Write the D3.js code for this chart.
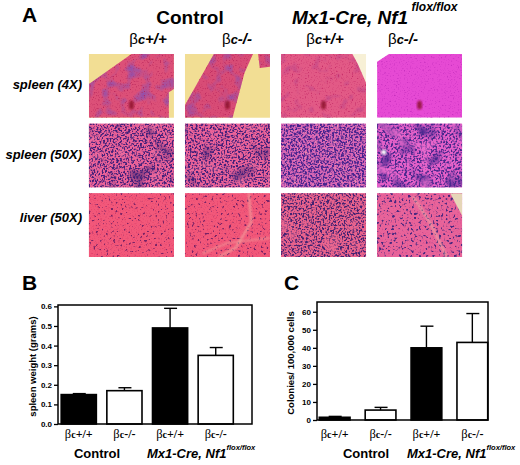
<!DOCTYPE html>
<html>
<head>
<meta charset="utf-8">
<script src="https://cdn.jsdelivr.net/npm/d3@7"></script>
<style>
body { margin: 0; background: #fff; }
svg { display: block; font-family: Arial, "Liberation Sans", sans-serif; }
</style>
</head>
<body>
<script>
// ---- data ----
const genotypes = ["βc+/+", "βc-/-", "βc+/+", "βc-/-"];
const groupNames = ["Control", "Mx1-Cre, Nf1"];
const groupSup = "flox/flox";
const tissueRows = ["spleen (4X)", "spleen (50X)", "liver (50X)"];
const barFills = ["#000", "#fff", "#000", "#fff"];

// panel B: spleen weight (grams), mean and upper error
const spleenWeight = [0.15, 0.17, 0.49, 0.35];
const spleenErr = [0.005, 0.015, 0.10, 0.04];
const spleenTicks = [0, 0.1, 0.2, 0.3, 0.4, 0.5, 0.6];

// panel C: colonies / 100,000 cells
const colonies = [1.5, 5.5, 40, 43];
const coloniesErr = [0.5, 1.5, 12, 16];
const colonyTicks = [0, 10, 20, 30, 40, 50, 60];

const W = 520, H = 465;
const svg = d3.select("body").append("svg").attr("width", W).attr("height", H);
const defs = svg.append("defs");

// ---------- panel A : histology grid ----------
const colX = d3.scaleBand().domain(d3.range(4)).range([87, 464]).paddingInner(0.115).paddingOuter(0.02);
const rowY = d3.scaleBand().domain(d3.range(3)).range([54, 257]).paddingInner(0.085);

// noise -> coloured speckles (a filter, not data)
// "dots" multiplies two noise fields so the spots come out blobby instead of wormy
let fid = 0;
function speck(color, freq, thresh, k, seed, oct, dots) {
  const id = "sp" + (fid++);
  const c = d3.rgb(color);
  const f = defs.append("filter").attr("id", id)
    .attr("x", 0).attr("y", 0).attr("width", 1).attr("height", 1)
    .attr("color-interpolation-filters", "sRGB");
  f.append("feTurbulence").attr("type", "fractalNoise")
    .attr("baseFrequency", freq).attr("numOctaves", oct || 1).attr("seed", seed).attr("result", "n1");
  if (dots) {
    f.append("feTurbulence").attr("type", "fractalNoise")
      .attr("baseFrequency", freq * 0.9).attr("numOctaves", oct || 1).attr("seed", seed + 500).attr("result", "n2");
    f.append("feComposite").attr("in", "n1").attr("in2", "n2").attr("operator", "arithmetic")
      .attr("k1", 1).attr("k2", 0).attr("k3", 0).attr("k4", 0);
  }
  f.append("feColorMatrix").attr("type", "matrix")
    .attr("values", `0 0 0 0 ${c.r / 255} 0 0 0 0 ${c.g / 255} 0 0 0 0 ${c.b / 255} ${k} 0 0 0 ${-k * thresh}`);
  return id;
}
defs.append("filter").attr("id", "blur").append("feGaussianBlur").attr("stdDeviation", 1.3);
defs.append("filter").attr("id", "soft").append("feGaussianBlur").attr("stdDeviation", 0.8);

// per-panel look: base colour, speckle layers [colour, freq, threshold, gain, seed, octaves, dots]
const panelLook = [
  // spleen 4X
  { bg: "#f2de94", base: "#dc5078", outline: [[0, .47], [.5, 0], [1, 0], [1, .55], [.94, .6], [.94, 1], [0, 1]],
    layers: [["#8250b8", .08, .5, 2.6, 3, 2], ["#b8245a", .7, .28, 4, 4, 1, true]], spot: true },
  { bg: "#f2de94", base: "#d84c76", outline: [[0, .8], [.34, 0], [.8, 0], [.7, .3], [.64, .6], [.56, 1], [0, 1]],
    extra: [[.86, 0], [1, 0], [1, .2], [.88, .22]],
    layers: [["#8250b8", .08, .5, 2.6, 7, 2], ["#b8245a", .7, .28, 4, 8, 1, true]], spot: true },
  { bg: "#f7f0d6", base: "#e25a86", outline: [[0, 0], [.84, 0], [.9, .15], [1, .45], [1, 1], [0, 1]],
    layers: [["#b3408a", .1, .55, 2, 11, 2], ["#c42866", .7, .28, 4, 12, 1, true]], spot: true },
  { bg: "#ffffff", base: "#e64ad4", outline: [[.14, 0], [1, 0], [1, 1], [0, 1], [0, .12]],
    layers: [["#c830c0", .7, .28, 4, 15, 1, true]], spot: true },
  // spleen 50X
  { base: "#ea6298", layers: [["#3a2070", .05, .55, 2.2, 21, 2], ["#44207a", .6, .225, 9, 22, 1, true], ["#f07aa8", .08, .6, 2, 23, 2]] },
  { base: "#ea6298", layers: [["#3a2070", .05, .56, 2.2, 25, 2], ["#44207a", .6, .225, 9, 26, 1, true], ["#f07aa8", .08, .6, 2, 27, 2]] },
  { base: "#d866b4", layers: [["#48248e", .6, .205, 9, 31, 1, true], ["#f08ab0", .5, .32, 7, 32, 1, true]] },
  { base: "#e460c8", layers: [["#44248e", .06, .5, 2.5, 35, 2], ["#4a288e", .55, .22, 8, 36, 1, true], ["#f070d0", .07, .58, 3, 37, 2]],
    hole: [.08, .45] },
  // liver 50X
  { base: "#f2587a", layers: [["#e0406a", .8, .26, 4, 41, 1, true], ["#7a2266", .45, .33, 10, 42, 1, true]] },
  { base: "#f2587a", layers: [["#e0406a", .8, .26, 4, 45, 1, true], ["#7a2266", .45, .33, 10, 46, 1, true]],
    streak: [[.75, 0], [.78, .45], [.6, .85], [.4, 1]], streak2: [[.2, .95], [.5, .78], [1, .7]] },
  { base: "#e8628c", layers: [["#442272", .6, .225, 8, 51, 1, true], ["#ee6a92", .05, .6, 3.5, 52, 2]] },
  { base: "#e8649a", layers: [["#e05090", .8, .26, 4, 55, 1, true], ["#4a2880", .45, .29, 9, 56, 1, true]],
    streak: [[.42, .05], [.62, .45], [.82, 1]], pale: [[.86, 0], [1, 0], [1, .35]] }
];

const line = d3.line();
panelLook.forEach((p, i) => {
  const r = Math.floor(i / 4), c = i % 4;
  const x0 = colX(c), y0 = rowY(r), w = colX.bandwidth(), h = rowY.bandwidth();
  const sc = d => [d[0] * w, d[1] * h];
  const g = svg.append("g").attr("transform", `translate(${x0},${y0})`);
  const cid = "clip" + i;
  const cp = defs.append("clipPath").attr("id", cid);
  cp.append("path").attr("d", line((p.outline || [[0, 0], [1, 0], [1, 1], [0, 1]]).map(sc)) + "Z");
  if (p.extra) cp.append("path").attr("d", line(p.extra.map(sc)) + "Z");
  g.append("rect").attr("width", w).attr("height", h).attr("fill", p.bg || p.base);
  const t = g.append("g").attr("clip-path", `url(#${cid})`);
  t.append("rect").attr("width", w).attr("height", h).attr("fill", p.base);
  p.layers.forEach(l => {
    t.append("rect").attr("width", w).attr("height", h)
      .attr("filter", `url(#${speck(...l)})`);
  });
  if (p.streak) {
    t.append("path").attr("d", line(p.streak.map(sc)))
      .attr("fill", "none").attr("stroke", "#f2b8a8").attr("stroke-width", 2).attr("opacity", .7)
      .attr("filter", "url(#soft)");
  }
  if (p.streak2) {
    t.append("path").attr("d", line(p.streak2.map(sc)))
      .attr("fill", "none").attr("stroke", "#f2b8a8").attr("stroke-width", 1.5).attr("opacity", .6)
      .attr("filter", "url(#soft)");
  }
  if (p.pale) {
    t.append("path").attr("d", line(p.pale.map(sc)) + "Z").attr("fill", "#e6d6b8");
  }
  if (p.hole) {
    t.append("circle").attr("cx", p.hole[0] * w).attr("cy", p.hole[1] * h).attr("r", 2.5)
      .attr("fill", "#fff").attr("filter", "url(#soft)");
  }
  if (p.spot) {
    t.append("ellipse").attr("cx", w * .5).attr("cy", h * .8).attr("rx", 2.6).attr("ry", 4.5)
      .attr("fill", "#8a0828").attr("opacity", .8).attr("filter", "url(#blur)");
  }
});

// row labels (liver label sits a little above its row centre)
const rowLabelShift = [3, 3, -3];
svg.selectAll(".rowlab").data(tissueRows).enter().append("text")
  .attr("class", "rowlab")
  .attr("x", 82).attr("y", (d, i) => rowY(i) + rowY.bandwidth() / 2 + rowLabelShift[i])
  .attr("text-anchor", "end").attr("font-size", 13).attr("font-weight", "bold").attr("font-style", "italic")
  .text(d => d);

// column headers
function genoLabel(sel, bigSize) {
  sel.append("tspan").attr("font-weight", "normal").text(d => d[0]);
  sel.append("tspan").attr("font-style", "italic").attr("font-size", bigSize * 0.85).text(d => d[1]);
  sel.append("tspan").attr("font-style", "italic").text(d => d.slice(2));
}
const headX = [148, 237, 325, 403];
svg.selectAll(".head").data(genotypes).enter().append("text")
  .attr("class", "head")
  .attr("x", (d, i) => headX[i]).attr("y", 44)
  .attr("text-anchor", "middle").attr("font-size", 15).attr("font-weight", "bold")
  .call(genoLabel, 15);

svg.append("text").attr("x", 22).attr("y", 22).attr("font-size", 21).attr("font-weight", "bold").text("A");
svg.append("text").attr("x", 190).attr("y", 24).attr("text-anchor", "middle")
  .attr("font-size", 19).attr("font-weight", "bold").text(groupNames[0]);
const hdr = svg.append("text").attr("x", 292).attr("y", 24)
  .attr("font-size", 19).attr("font-weight", "bold").attr("font-style", "italic");
hdr.append("tspan").text(groupNames[1]);
hdr.append("tspan").attr("dy", -13).attr("font-size", 12).text(" " + groupSup);

// ---------- bar charts B and C ----------
function barChart(o) {
  const x = d3.scaleBand().domain(d3.range(o.values.length))
    .range([o.left, o.bandRight]).paddingInner(o.pi).paddingOuter(o.po);
  const y = d3.scaleLinear().domain([0, o.ymax]).range([o.bottom, o.top]);
  const g = svg.append("g");

  g.append("text").attr("x", o.letterX).attr("y", 290).attr("font-size", 21).attr("font-weight", "bold").text(o.letter);

  // bars
  g.selectAll(".bar").data(o.values).enter().append("rect")
    .attr("x", (d, i) => x(i)).attr("y", d => y(d))
    .attr("width", x.bandwidth()).attr("height", d => o.bottom - y(d))
    .attr("fill", (d, i) => barFills[i]).attr("stroke", "#000").attr("stroke-width", 1.6);

  // error bars (upper only)
  const eb = g.selectAll(".err").data(o.values).enter().append("g");
  eb.append("line")
    .attr("x1", (d, i) => x(i) + x.bandwidth() / 2).attr("x2", (d, i) => x(i) + x.bandwidth() / 2)
    .attr("y1", d => y(d)).attr("y2", (d, i) => y(d + o.err[i]))
    .attr("stroke", "#000").attr("stroke-width", 1.4);
  eb.append("line")
    .attr("x1", (d, i) => x(i) + x.bandwidth() / 2 - 6).attr("x2", (d, i) => x(i) + x.bandwidth() / 2 + 7)
    .attr("y1", (d, i) => y(d + o.err[i])).attr("y2", (d, i) => y(d + o.err[i]))
    .attr("stroke", "#000").attr("stroke-width", 1.4);

  // frame
  g.append("rect").attr("x", o.left).attr("y", o.top)
    .attr("width", o.right - o.left).attr("height", o.bottom - o.top)
    .attr("fill", "none").attr("stroke", "#000").attr("stroke-width", 1.5);

  // y axis
  const ax = g.append("g").attr("transform", `translate(${o.left},0)`)
    .call(d3.axisLeft(y).tickValues(o.ticks).tickFormat(o.fmt).tickSize(4).tickPadding(2));
  ax.select(".domain").remove();
  ax.selectAll("line").attr("stroke-width", 1.3);
  ax.selectAll("text").attr("font-size", 8).attr("font-weight", "bold").attr("font-family", "Arial, sans-serif");

  g.append("text").attr("transform", `translate(${o.titleX},${(o.top + o.bottom) / 2 + 2}) rotate(-90)`)
    .attr("text-anchor", "middle").attr("font-size", 9.5).attr("font-weight", "bold").text(o.title);

  // category labels
  const cl = g.selectAll(".cat").data(genotypes).enter().append("text")
    .attr("x", (d, i) => x(i) + x.bandwidth() / 2).attr("y", 438)
    .attr("text-anchor", "middle").attr("font-size", 12.5).attr("font-weight", "bold")
    .attr("font-family", "'Liberation Serif', 'DejaVu Serif', serif");
  cl.append("tspan").attr("font-weight", "normal").text(d => d[0]);
  cl.append("tspan").attr("font-size", 10).text(d => d[1]);
  cl.append("tspan").attr("font-size", 12).text(d => d.slice(2));

  // group labels
  g.append("text").attr("x", o.ctrlX).attr("y", 458).attr("text-anchor", "middle")
    .attr("font-size", 13).attr("font-weight", "bold").text(groupNames[0]);
  const gl = g.append("text").attr("x", o.mxX).attr("y", 458)
    .attr("font-size", 13).attr("font-weight", "bold").attr("font-style", "italic");
  gl.append("tspan").text(groupNames[1]);
  gl.append("tspan").attr("dy", -8).attr("font-size", 7.5).text(groupSup);
}

barChart({
  letter: "B", letterX: 22, values: spleenWeight, err: spleenErr, ticks: spleenTicks, fmt: d3.format(".1f"),
  ymax: 0.607, left: 58, right: 252, bandRight: 236.5, pi: 0.23, po: 0.07, top: 305, bottom: 424,
  titleX: 36, title: "spleen weight (grams)", ctrlX: 97, mxX: 147
});
barChart({
  letter: "C", letterX: 284, values: colonies, err: coloniesErr, ticks: colonyTicks, fmt: d3.format("d"),
  ymax: 65.4, left: 317, right: 488, bandRight: 490, pi: 0.33, po: 0.05, top: 302, bottom: 420,
  titleX: 294, title: "Colonies/ 100,000 cells", ctrlX: 366, mxX: 407
});
</script>
</body>
</html>
